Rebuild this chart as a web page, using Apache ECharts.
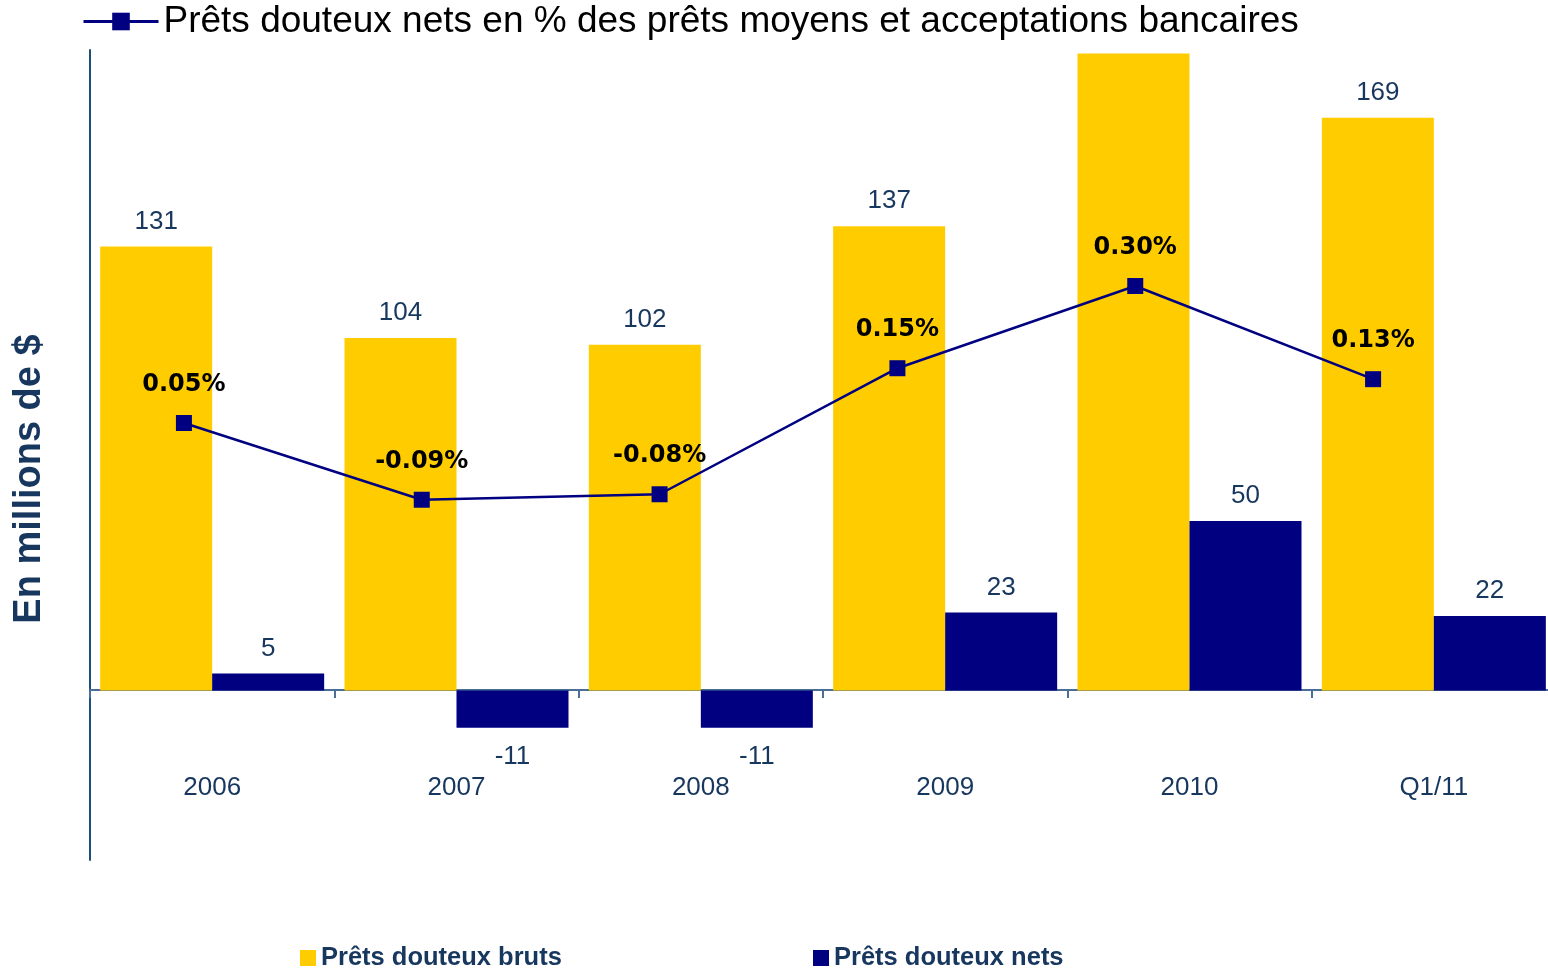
<!DOCTYPE html>
<html>
<head>
<meta charset="utf-8">
<script src="https://cdn.jsdelivr.net/npm/echarts@6/dist/echarts.min.js"></script>
<style>
  html, body { margin: 0; padding: 0; background: #fff; overflow: hidden; }
  /* a bit wider than the window: the last bar touches the right edge in the original */
  #chart { width: 1560px; height: 970px; }
</style>
</head>
<body>
<div id="chart"></div>
<script>
// data
var categories = ['2006', '2007', '2008', '2009', '2010', 'Q1/11']
var grossLoans = [131, 104, 102, 137, 188, 169]
var netLoans = [5, -11, -11, 23, 50, 22]
var netPct = [0.05, -0.09, -0.08, 0.15, 0.30, 0.13]
// 2010 gross bar runs past the top in the original, no label shown
var hiddenGrossLabel = [false, false, false, false, true, false]

var navy = '#000080'
var gold = '#FFCC00'
var textBlue = '#17375E'

var myChart = echarts.init(document.getElementById('chart'))

var grossData = grossLoans.map(function (v, i) {
  return hiddenGrossLabel[i] ? { value: v, label: { show: false } } : v
})
var netData = netLoans.map(function (v) {
  return v < 0 ? { value: v, label: { position: 'bottom', distance: 16 } } : v
})

var bottomLegendText = {
  fontSize: 25.5,
  fontWeight: 'bold',
  color: textBlue
}

var option = {
  animation: false,
  textStyle: { fontFamily: 'Liberation Sans, Arial, sans-serif' },
  legend: [
    {
      data: ['Prêts douteux nets en % des prêts moyens et acceptations bancaires'],
      left: 82,
      top: 3,
      padding: 0,
      itemWidth: 75,
      itemHeight: 22,
      itemGap: 10,
      lineStyle: { width: 3 },
      textStyle: { fontSize: 37, color: '#000' }
    },
    {
      data: ['Prêts douteux bruts'],
      left: 300,
      top: 945,
      padding: 0,
      itemWidth: 16,
      itemHeight: 16,
      icon: 'rect',
      textStyle: bottomLegendText
    },
    {
      data: ['Prêts douteux nets'],
      left: 813,
      top: 945,
      padding: 0,
      itemWidth: 16,
      itemHeight: 16,
      icon: 'rect',
      textStyle: bottomLegendText
    }
  ],
  graphic: [
    {
      type: 'text',
      x: 30,
      y: 479,
      rotation: Math.PI / 2,
      style: {
        text: 'En millions de $',
        fill: textBlue,
        font: 'bold 38px "Liberation Sans", Arial, sans-serif',
        align: 'center',
        verticalAlign: 'middle'
      }
    }
  ],
  grid: [
    { left: 90, width: 1466, top: 50, bottom: 110 },
    { left: 65, width: 1427, top: 50, bottom: 110 }
  ],
  xAxis: [
    {
      type: 'category',
      gridIndex: 0,
      data: categories,
      position: 'bottom',
      offset: -170,
      axisLine: { onZero: false, lineStyle: { color: '#4A6E95', width: 2 } },
      axisTick: {
        show: true,
        interval: 0,
        inside: false,
        length: 8,
        lineStyle: { color: '#4A6E95', width: 2 }
      },
      axisLabel: { margin: 85, fontSize: 26, color: textBlue }
    },
    {
      type: 'category',
      gridIndex: 1,
      data: categories,
      show: false
    }
  ],
  yAxis: [
    {
      type: 'value',
      gridIndex: 0,
      min: -50,
      max: 189,
      axisLine: { show: true, onZero: false, lineStyle: { color: '#1F4E79', width: 2 } },
      axisTick: { show: false },
      axisLabel: { show: false },
      splitLine: { show: false }
    },
    {
      type: 'value',
      gridIndex: 1,
      min: -0.7474,
      max: 0.7307,
      show: false,
      splitLine: { show: false }
    }
  ],
  series: [
    {
      name: 'Prêts douteux bruts',
      type: 'bar',
      xAxisIndex: 0,
      yAxisIndex: 0,
      data: grossData,
      barWidth: 112,
      barGap: '0%',
      itemStyle: { color: gold },
      label: { show: true, position: 'top', distance: 12, fontSize: 26, color: textBlue }
    },
    {
      name: 'Prêts douteux nets',
      type: 'bar',
      xAxisIndex: 0,
      yAxisIndex: 0,
      data: netData,
      barWidth: 112,
      barGap: '0%',
      itemStyle: { color: navy },
      label: { show: true, position: 'top', distance: 12, fontSize: 26, color: textBlue }
    },
    {
      name: 'Prêts douteux nets en % des prêts moyens et acceptations bancaires',
      type: 'line',
      xAxisIndex: 1,
      yAxisIndex: 1,
      data: netPct,
      symbol: 'rect',
      symbolSize: 16,
      lineStyle: { color: navy, width: 2.5 },
      itemStyle: { color: navy },
      label: {
        show: true,
        position: 'top',
        distance: 18,
        fontSize: 24,
        fontWeight: 'bold',
        color: '#000',
        fontFamily: 'DejaVu Sans, sans-serif',
        formatter: function (p) { return p.value.toFixed(2) + '%' }
      },
      z: 5
    }
  ]
}

myChart.setOption(option)
window.onresize = myChart.resize
</script>
</body>
</html>
